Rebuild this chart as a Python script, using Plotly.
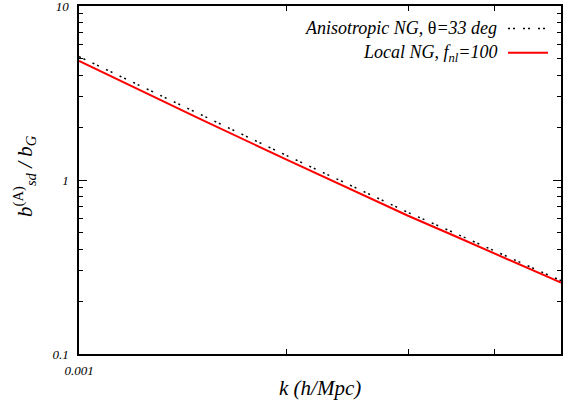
import math
import plotly.graph_objects as go

# data
k = [0.001, 0.0015, 0.002, 0.0025, 0.003, 0.0035, 0.004, 0.0045, 0.005]
local_ng = [4.83, 2.236, 1.31, 0.871, 0.623, 0.478, 0.378, 0.308, 0.257]
aniso_ng = [5.12, 2.366, 1.382, 0.915, 0.651, 0.497, 0.392, 0.318, 0.264]

series_names = ["<i>Anisotropic NG, </i>θ<i>=33 deg</i>",
                "<i>Local NG, f</i><sub><i>nl</i></sub><i>=100</i>"]

x_major = [0.001]
x_major_text = ["0.001"]
x_minor = [0.002, 0.003, 0.004]
y_major = [0.1, 1, 10]
y_major_text = ["0.1", "1", "10"]
y_minor = [m * d for d in (0.1, 1) for m in range(2, 10)]
x_lim = [0.001, 0.005]
y_lim = [0.1, 10]

FONT = "Liberation Serif, Times New Roman, serif"

fig = go.Figure()
fig.add_trace(go.Scatter(x=k, y=aniso_ng, mode="lines", name="aniso",
                         line=dict(color="black", width=1.5, dash="2px,3px,2px,8px"),
                         showlegend=False))
fig.add_trace(go.Scatter(x=k, y=local_ng, mode="lines", name="local",
                         line=dict(color="#ff0000", width=2),
                         showlegend=False))

W, H = 563, 403
L, R, T, B = 79, 2, 6, 49
pw, ph = W - L - R, H - T - B

def px(xp):
    return (xp - L) / pw

def py(yp):
    return (H - B - yp) / ph

axis_common = dict(showline=True, linecolor="black", linewidth=1.5, mirror="ticks",
                   ticks="inside", tickcolor="black", tickwidth=1, showgrid=False,
                   zeroline=False, type="log", automargin=False,
                   ticklabeloverflow="allow",
                   tickfont=dict(family=FONT, size=13, color="black", style="italic"))

fig.update_xaxes(**axis_common, range=[math.log10(v) for v in x_lim],
                 tickmode="array", tickvals=x_major, ticktext=x_major_text, ticklen=8,
                 ticklabelstandoff=4,
                 minor=dict(tickvals=x_minor, ticks="inside", ticklen=5,
                            tickcolor="black", tickwidth=1, showgrid=False))
fig.update_yaxes(**axis_common, range=[math.log10(v) for v in y_lim],
                 tickmode="array", tickvals=y_major, ticktext=y_major_text, ticklen=8,
                 ticklabelstandoff=6,
                 minor=dict(tickvals=y_minor, ticks="inside", ticklen=4,
                            tickcolor="black", tickwidth=1, showgrid=False))

annotations = [
    dict(text="<i>k (h/Mpc)</i>", x=0.5, y=py(388), xref="paper", yref="paper",
         xanchor="center", yanchor="middle", showarrow=False,
         font=dict(family=FONT, size=21, color="black")),
    dict(text="<i>b</i><sup>(A)</sup><sub><i>sd</i></sub><i> / b</i><sub><i>G</i></sub>",
         x=px(24), y=py(176), xref="paper", yref="paper", textangle=-90,
         xanchor="center", yanchor="middle", showarrow=False,
         font=dict(family=FONT, size=21, color="black")),
    dict(text=series_names[0], x=px(499), y=py(28), xref="paper", yref="paper",
         xanchor="right", yanchor="middle", showarrow=False,
         font=dict(family=FONT, size=18, color="black")),
    dict(text=series_names[1], x=px(499), y=py(53), xref="paper", yref="paper",
         xanchor="right", yanchor="middle", showarrow=False,
         font=dict(family=FONT, size=18, color="black")),
]

shapes = [
    dict(type="line", xref="paper", yref="paper", x0=px(508), x1=px(548),
         y0=py(28.5), y1=py(28.5),
         line=dict(color="black", width=1.5, dash="2px,3px,2px,8px")),
    dict(type="line", xref="paper", yref="paper", x0=px(508), x1=px(548),
         y0=py(52.7), y1=py(52.7),
         line=dict(color="#ff0000", width=2)),
]

fig.update_layout(width=W, height=H, margin=dict(l=L, r=R, t=T, b=B, autoexpand=False),
                  plot_bgcolor="white", paper_bgcolor="white",
                  annotations=annotations, shapes=shapes, showlegend=False,
                  font=dict(family=FONT, color="black"))

fig.write_html("out.html", config={"displayModeBar": False},
               post_script="document.body.style.margin='0';document.body.style.overflow='hidden';")
